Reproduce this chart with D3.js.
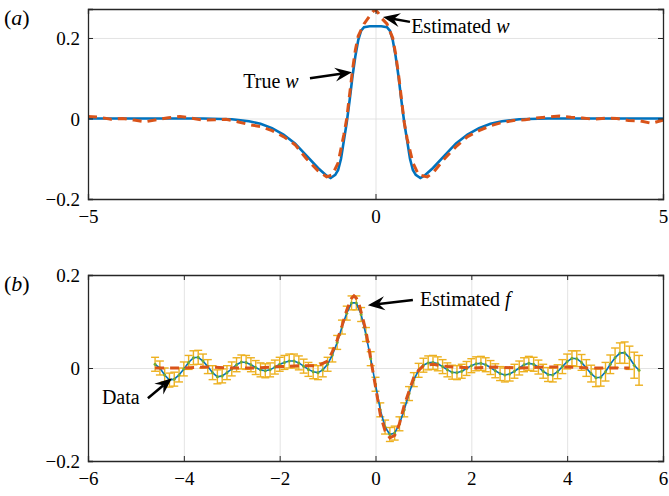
<!DOCTYPE html>
<html>
<head>
<meta charset="utf-8">
<script src="https://cdn.jsdelivr.net/npm/d3@7"></script>
<style>
body { margin: 0; background: #fff; }
text { font-family: "Liberation Serif", "Times New Roman", serif; }
</style>
</head>
<body>
<div id="chart"></div>
<script>

// ---- panel (a): kernel w ----
var wTrueX = [-5, -3, -2.5, -2.2, -2.0, -1.8, -1.6, -1.4, -1.2, -1.0, -0.85, -0.78, -0.7, -0.65, -0.6, -0.55, -0.5, -0.45, -0.4, -0.35, -0.3, -0.25, -0.2, -0.1, 0,
              0.1, 0.2, 0.25, 0.3, 0.35, 0.4, 0.45, 0.5, 0.55, 0.6, 0.65, 0.7, 0.78, 0.85, 1.0, 1.2, 1.4, 1.6, 1.8, 2.0, 2.2, 2.5, 3, 5];
var wTrue = [0, 0, -0.002, -0.007, -0.013, -0.024, -0.04, -0.062, -0.092, -0.123, -0.142, -0.148, -0.14, -0.128, -0.1, -0.055, -0.01, 0.045, 0.105, 0.155, 0.195, 0.218, 0.227, 0.229, 0.229,
             0.229, 0.227, 0.218, 0.195, 0.155, 0.105, 0.045, -0.01, -0.055, -0.1, -0.128, -0.14, -0.148, -0.142, -0.123, -0.092, -0.062, -0.04, -0.024, -0.013, -0.007, -0.002, 0, 0];

var wEstX = [-5, -4.8, -4.6, -4.4, -4.2, -4.0, -3.8, -3.6, -3.4, -3.2, -3.0, -2.8, -2.6, -2.4, -2.2, -2.0, -1.8, -1.6, -1.4, -1.2, -1.0, -0.85, -0.75, -0.65, -0.55, -0.5, -0.45, -0.4, -0.35, -0.3, -0.2, -0.1, -0.05, 0,
             0.05, 0.1, 0.2, 0.3, 0.35, 0.4, 0.45, 0.5, 0.55, 0.65, 0.75, 0.9, 1.0, 1.2, 1.4, 1.6, 1.8, 2.0, 2.2, 2.4, 2.6, 2.8, 3.0, 3.2, 3.4, 3.6, 3.8, 4.0, 4.2, 4.4, 4.6, 4.8, 5.0];
var wEst = [0.005, 0.003, -0.002, 0, -0.004, -0.008, -0.003, 0.002, 0.005, 0.001, -0.004, -0.003, -0.002, -0.008, -0.015, -0.02, -0.03, -0.045, -0.065, -0.1, -0.13, -0.145, -0.14, -0.11, -0.04, 0.0, 0.06, 0.12, 0.17, 0.205, 0.235, 0.255, 0.265, 0.27,
            0.262, 0.25, 0.235, 0.2, 0.16, 0.11, 0.05, -0.01, -0.05, -0.11, -0.14, -0.145, -0.135, -0.1, -0.07, -0.045, -0.03, -0.018, -0.01, -0.005, -0.003, 0.001, 0.004, 0.006, 0.003, 0.001, -0.002, 0.001, 0.0, -0.005, -0.006, -0.012, -0.004];

// ---- panel (b): data f with error bars, estimated f ----
var fX = [-4.6, -4.5, -4.4, -4.3, -4.2, -4.1, -4.0, -3.9, -3.8, -3.7, -3.6, -3.5, -3.4, -3.3, -3.2, -3.1, -3.0, -2.9, -2.8, -2.7,
          -2.6, -2.5, -2.4, -2.3, -2.2, -2.1, -2.0, -1.9, -1.8, -1.7, -1.6, -1.5, -1.4, -1.3, -1.2, -1.1, -1.0, -0.9, -0.8, -0.7,
          -0.6, -0.5, -0.4, -0.3, -0.2, -0.1, 0.0, 0.1, 0.2, 0.3, 0.4, 0.5, 0.6, 0.7, 0.8, 0.9, 1.0, 1.1, 1.2, 1.3,
          1.4, 1.5, 1.6, 1.7, 1.8, 1.9, 2.0, 2.1, 2.2, 2.3, 2.4, 2.5, 2.6, 2.7, 2.8, 2.9, 3.0, 3.1, 3.2, 3.3,
          3.4, 3.5, 3.6, 3.7, 3.8, 3.9, 4.0, 4.1, 4.2, 4.3, 4.4, 4.5, 4.6, 4.7, 4.8, 4.9, 5.0, 5.1, 5.2, 5.3, 5.4, 5.5];
var fData = [0.008, 0.0, -0.015, -0.026, -0.024, -0.015, -0.002, 0.012, 0.022, 0.023, 0.015, 0.003, -0.01, -0.019, -0.017, -0.01, -0.002, 0.007, 0.013, 0.012,
             0.007, 0.001, -0.004, -0.006, -0.004, 0.002, 0.008, 0.012, 0.015, 0.015, 0.011, 0.004, -0.003, -0.008, -0.01, -0.004, 0.008, 0.028, 0.055, 0.088,
             0.118, 0.14, 0.14, 0.115, 0.072, 0.02, -0.035, -0.09, -0.127, -0.143, -0.14, -0.12, -0.09, -0.055, -0.025, -0.005, 0.006, 0.011, 0.012, 0.009,
             0.003, -0.004, -0.009, -0.01, -0.007, -0.001, 0.005, 0.009, 0.01, 0.007, 0.001, -0.006, -0.012, -0.015, -0.013, -0.007, 0.0, 0.007, 0.01, 0.008,
             0.002, -0.007, -0.014, -0.015, -0.008, 0.003, 0.014, 0.021, 0.02, 0.012, 0.0, -0.012, -0.021, -0.02, -0.008, 0.008, 0.022, 0.032, 0.033, 0.022, 0.006, -0.005];
var fErr = [0.015, 0.015, 0.015, 0.015, 0.015, 0.015, 0.015, 0.015, 0.015, 0.015, 0.015, 0.015, 0.015, 0.015, 0.015, 0.015, 0.015, 0.015, 0.015, 0.015,
            0.015, 0.015, 0.015, 0.015, 0.015, 0.015, 0.015, 0.015, 0.015, 0.015, 0.015, 0.015, 0.015, 0.015, 0.015, 0.015, 0.015, 0.015, 0.015, 0.015,
            0.015, 0.015, 0.015, 0.015, 0.015, 0.015, 0.015, 0.015, 0.015, 0.015, 0.015, 0.015, 0.015, 0.015, 0.015, 0.015, 0.015, 0.015, 0.015, 0.015,
            0.015, 0.015, 0.015, 0.015, 0.015, 0.015, 0.015, 0.015, 0.015, 0.015, 0.015, 0.015, 0.015, 0.015, 0.015, 0.015, 0.015, 0.015, 0.015, 0.015,
            0.015, 0.015, 0.015, 0.015, 0.015, 0.015, 0.016, 0.016, 0.017, 0.017, 0.018, 0.018, 0.019, 0.019, 0.02, 0.02, 0.021, 0.022, 0.023, 0.025, 0.028, 0.032];

var fEstX = [-4.6, -4.0, -3.5, -3.0, -2.5, -2.0, -1.5, -1.2, -1.0, -0.9, -0.8, -0.7, -0.6, -0.5, -0.45, -0.4, -0.35, -0.3, -0.2, -0.1, 0,
             0.1, 0.2, 0.3, 0.4, 0.5, 0.6, 0.7, 0.8, 0.9, 1.0, 1.2, 1.5, 2.0, 2.5, 3.0, 3.5, 4.0, 4.5, 5.0, 5.3];
var fEst = [0, 0, 0.002, 0, 0, 0.003, 0.005, 0.005, 0.015, 0.035, 0.06, 0.09, 0.125, 0.15, 0.155, 0.15, 0.14, 0.12, 0.08, 0.02, -0.04,
            -0.1, -0.135, -0.15, -0.145, -0.12, -0.08, -0.05, -0.02, -0.005, 0.005, 0.008, 0.003, 0, 0.002, 0, 0.002, 0.002, 0, 0, 0];

// ticks
var xTicksA = [-5, 0, 5], yTicksA = [-0.2, 0, 0.2];
var xTicksB = [-6, -4, -2, 0, 2, 4, 6], yTicksB = [-0.2, 0, 0.2];

var blue = "#0072BD", orange = "#D95319", gold = "#EDB120", green = "#77AC30";
var serif = "'Liberation Serif', 'Times New Roman', serif";

var svg = d3.select("#chart").append("svg")
	.attr("width", 669)
	.attr("height", 496)
	.attr("font-family", serif);

function panel(opt) {
	var left = 88, right = 663;
	var x = d3.scaleLinear().domain(opt.xd).range([left, right]);
	var y = d3.scaleLinear().domain(opt.yd).range([opt.bottom, opt.top]);
	var g = svg.append("g");
	var h = opt.bottom - opt.top, w = right - left;

	// grid
	g.append("g").attr("transform", "translate(0," + opt.bottom + ")")
		.call(d3.axisBottom(x).tickValues(opt.xt).tickSize(-h).tickFormat(""))
		.call(a => a.select(".domain").remove())
		.selectAll("line").attr("stroke", "#dcdcdc").attr("stroke-width", 0.8);
	g.append("g").attr("transform", "translate(" + left + ",0)")
		.call(d3.axisLeft(y).tickValues(opt.yt).tickSize(-w).tickFormat(""))
		.call(a => a.select(".domain").remove())
		.selectAll("line").attr("stroke", "#dcdcdc").attr("stroke-width", 0.8);

	var clipId = "clip" + opt.name;
	svg.append("clipPath").attr("id", clipId).append("rect")
		.attr("x", left).attr("y", opt.top).attr("width", w).attr("height", h);
	var plot = g.append("g").attr("clip-path", "url(#" + clipId + ")");

	opt.draw(plot, x, y);

	// axes, ticks inward on all four sides
	var fmt = d => d3.format("")(d).replace("-", "\u2013");
	var bx = g.append("g").attr("transform", "translate(0," + opt.bottom + ")")
		.call(d3.axisBottom(x).tickValues(opt.xt).tickSize(-5).tickPadding(11).tickFormat(fmt));
	var tx = g.append("g").attr("transform", "translate(0," + opt.top + ")")
		.call(d3.axisTop(x).tickValues(opt.xt).tickSize(-5).tickFormat(""));
	var ly = g.append("g").attr("transform", "translate(" + left + ",0)")
		.call(d3.axisLeft(y).tickValues(opt.yt).tickSize(-5).tickPadding(8).tickFormat(fmt));
	var ry = g.append("g").attr("transform", "translate(" + right + ",0)")
		.call(d3.axisRight(y).tickValues(opt.yt).tickSize(-5).tickFormat(""));
	[bx, tx, ly, ry].forEach(function(a) {
		a.attr("font-family", serif);
		a.select(".domain").attr("stroke", "#262626").attr("stroke-width", 1.3);
		a.selectAll("line").attr("stroke", "#262626").attr("stroke-width", 1);
		a.selectAll("text").attr("fill", "#000").attr("font-size", 19);
	});
	ly.selectAll("text").attr("dy", "0.35em");

	// panel label
	var lab = svg.append("text").attr("x", 4).attr("y", opt.top + 16).attr("font-size", 22);
	lab.append("tspan").text("(");
	lab.append("tspan").attr("font-style", "italic").text(opt.name);
	lab.append("tspan").text(")");

	return {x: x, y: y};
}

function arrow(sc, x0, y0, x1, y1) {
	var ax = sc.x(x0), ay = sc.y(y0), bx = sc.x(x1), by = sc.y(y1);
	var ang = Math.atan2(by - ay, bx - ax);
	var L = 17, W = 7, N = 11;
	var c = Math.cos(ang), s = Math.sin(ang);
	var p1 = [bx - L * c - W * s, by - L * s + W * c];
	var p2 = [bx - N * c, by - N * s];
	var p3 = [bx - L * c + W * s, by - L * s - W * c];
	svg.append("line")
		.attr("x1", ax).attr("y1", ay).attr("x2", p2[0]).attr("y2", p2[1])
		.attr("stroke", "#000").attr("stroke-width", 2.5);
	svg.append("path")
		.attr("d", "M" + bx + "," + by + "L" + p1 + "L" + p2 + "L" + p3 + "Z")
		.attr("fill", "#000");
}

function label(sc, x0, y0, main, ital) {
	var t = svg.append("text").attr("x", sc.x(x0)).attr("y", sc.y(y0)).attr("font-size", 20);
	t.append("tspan").text(main);
	t.append("tspan").attr("font-style", "italic").text(ital);
}

// panel (a)
var sa = panel({
	name: "a", xd: [-5, 5], yd: [-0.2, 0.272], top: 9, bottom: 199, xt: xTicksA, yt: yTicksA,
	draw: function(p, x, y) {
		var trueLine = d3.line().x((d, i) => x(wTrueX[i])).y(d => y(d));
		var estLine = d3.line().x((d, i) => x(wEstX[i])).y(d => y(d));
		p.append("path").attr("d", trueLine(wTrue))
			.attr("fill", "none").attr("stroke", blue).attr("stroke-width", 2.6);
		p.append("path").attr("d", estLine(wEst))
			.attr("fill", "none").attr("stroke", orange).attr("stroke-width", 3)
			.attr("stroke-dasharray", "9,6");
	}
});
label(sa, -2.3, 0.076, "True ", "w");
arrow(sa, -1.14, 0.1, -0.41, 0.115);
label(sa, 0.62, 0.212, "Estimated ", "w");
arrow(sa, 0.6, 0.24, 0.13, 0.252);

// panel (b)
var sb = panel({
	name: "b", xd: [-6, 6], yd: [-0.2, 0.2], top: 275, bottom: 461, xt: xTicksB, yt: yTicksB,
	draw: function(p, x, y) {
		var eb = p.append("g").attr("stroke", gold).attr("stroke-width", 1.4);
		fData.forEach(function(v, i) {
			var cx = x(fX[i]);
			eb.append("line").attr("x1", cx).attr("x2", cx)
				.attr("y1", y(v - fErr[i])).attr("y2", y(v + fErr[i]));
			eb.append("line").attr("x1", cx - 4).attr("x2", cx + 4)
				.attr("y1", y(v - fErr[i])).attr("y2", y(v - fErr[i]));
			eb.append("line").attr("x1", cx - 4).attr("x2", cx + 4)
				.attr("y1", y(v + fErr[i])).attr("y2", y(v + fErr[i]));
		});
		var dataLine = d3.line().x((d, i) => x(fX[i])).y(d => y(d));
		p.append("path").attr("d", dataLine(fData))
			.attr("fill", "none").attr("stroke", blue).attr("stroke-width", 1.6);
		p.selectAll("circle.pt").data(fData).enter().append("circle")
			.attr("class", "pt")
			.attr("cx", (d, i) => x(fX[i])).attr("cy", d => y(d)).attr("r", 1.5)
			.attr("fill", green);
		var estLine = d3.line().x((d, i) => x(fEstX[i])).y(d => y(d));
		p.append("path").attr("d", estLine(fEst))
			.attr("fill", "none").attr("stroke", orange).attr("stroke-width", 3)
			.attr("stroke-dasharray", "9,6");
	}
});
label(sb, 0.93, 0.133, "Estimated ", "f");
arrow(sb, 0.78, 0.146, -0.16, 0.135);
label(sb, -5.71, -0.077, "Data", "");
arrow(sb, -4.75, -0.065, -4.25, -0.022);

</script>
</body>
</html>
